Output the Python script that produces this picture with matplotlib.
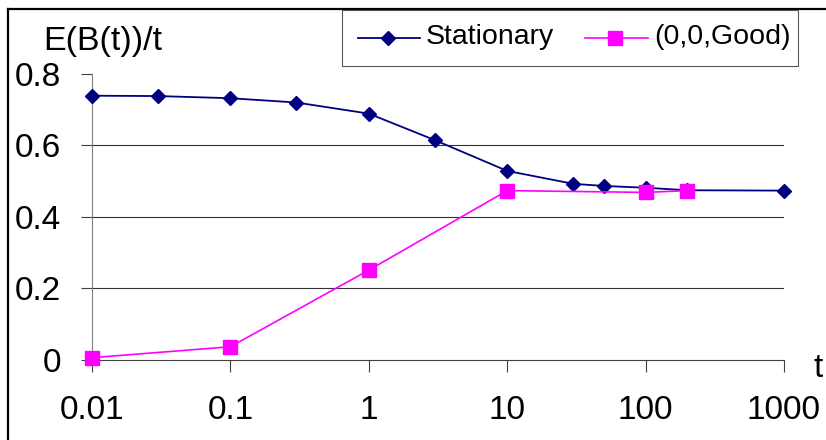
import matplotlib
matplotlib.use("Agg")
import matplotlib.pyplot as plt
from matplotlib.lines import Line2D
from matplotlib.patches import Rectangle

plt.rcParams['font.family'] = ['Liberation Sans', 'DejaVu Sans']

# Time values (log scale) and E(B(t))/t for each scenario
t_stationary = [0.01, 0.03, 0.1, 0.3, 1, 3, 10, 30, 50, 100, 200, 1000]
stationary = [0.738, 0.737, 0.731, 0.719, 0.688, 0.614, 0.528, 0.492, 0.486, 0.481, 0.474, 0.473]

t_good = [0.01, 0.1, 1, 10, 100, 200]
good = [0.0065, 0.037, 0.251, 0.473, 0.468, 0.473]

series_names = ['Stationary', '(0,0,Good)']
series_colors = ['#000080', '#FF00FF']

x_ticks = [0.01, 0.1, 1, 10, 100, 1000]
x_tick_labels = ["0.01", "0.1", "1", "10", "100", "1000"]
y_ticks = [0, 0.2, 0.4, 0.6, 0.8]
y_tick_labels = ["0", "0.2", "0.4", "0.6", "0.8"]

W, H = 826, 440
fig = plt.figure(figsize=(W / 100, H / 100), dpi=100)


def fx(px):
    return px / W


def fy(py):
    return 1 - py / H


ax = fig.add_axes([fx(92), fy(360), (784 - 92) / W, (360 - 73.5) / H])

ax.set_xscale('log')
ax.set_xlim(0.01, 1000)
ax.set_ylim(0, 0.8)

# horizontal grid lines
for y in [0.2, 0.4, 0.6]:
    ax.axhline(y, color='#333333', lw=0.8, zorder=1)

ax.plot(t_stationary, stationary, color=series_colors[0], lw=1.3, marker='D',
        markersize=7, zorder=3, clip_on=False)
ax.plot(t_good, good, color=series_colors[1], lw=1.2, marker='s',
        markersize=10, zorder=4, clip_on=False)

ax.set_xticks(x_ticks)
ax.set_xticklabels(x_tick_labels)
ax.xaxis.set_minor_locator(matplotlib.ticker.NullLocator())
ax.set_yticks(y_ticks)
ax.set_yticklabels(y_tick_labels)

for s in ['top', 'right']:
    ax.spines[s].set_visible(False)
ax.spines['left'].set_color('#808080')
ax.spines['bottom'].set_color('#404040')
ax.spines['left'].set_linewidth(0.8)
ax.spines['bottom'].set_linewidth(0.8)

ax.tick_params(axis='y', direction='out', length=8, width=0.8, color='#404040',
               labelsize=24, pad=14.5)
ax.tick_params(axis='x', direction='out', length=8.5, width=0.8, color='#404040',
               labelsize=24, pad=17)

fig.text(fx(43), fy(50), 'E(B(t))/t', fontsize=24.5, ha='left', va='baseline')
fig.text(fx(813), fy(376.5), 't', fontsize=24, ha='left', va='baseline')

# outer frame (left and top edges)
fig.add_artist(Line2D([fx(8), fx(8)], [0, fy(9)], color='black', lw=1.6,
                      transform=fig.transFigure))
fig.add_artist(Line2D([fx(8), 1], [fy(9.5), fy(9.5)], color='black', lw=1.6,
                      transform=fig.transFigure))

# legend box with line/marker keys
fig.add_artist(Rectangle((fx(341.7), fy(66)), (797.7 - 341.7) / W, (66 - 10) / H,
                         transform=fig.transFigure, facecolor='white',
                         edgecolor='#555555', lw=0.8, zorder=5))
keys = [(358, 420, 388, 'D', 7, 426, 1.3),
        (585, 648, 615, 's', 10, 654, 1.2)]
for (x0, x1, xm, mk, ms, xt, lw), name, col in zip(keys, series_names, series_colors):
    fig.add_artist(Line2D([fx(x0), fx(x1)], [fy(38.3), fy(38.3)], color=col, lw=lw,
                          transform=fig.transFigure, zorder=6))
    fig.add_artist(Line2D([fx(xm)], [fy(38.3)], color=col, marker=mk, markersize=ms,
                          lw=0, transform=fig.transFigure, zorder=7))
    fig.text(fx(xt), fy(44.3), name, fontsize=20.5, ha='left', va='baseline', zorder=7)

fig.savefig('out.png', dpi=100)
